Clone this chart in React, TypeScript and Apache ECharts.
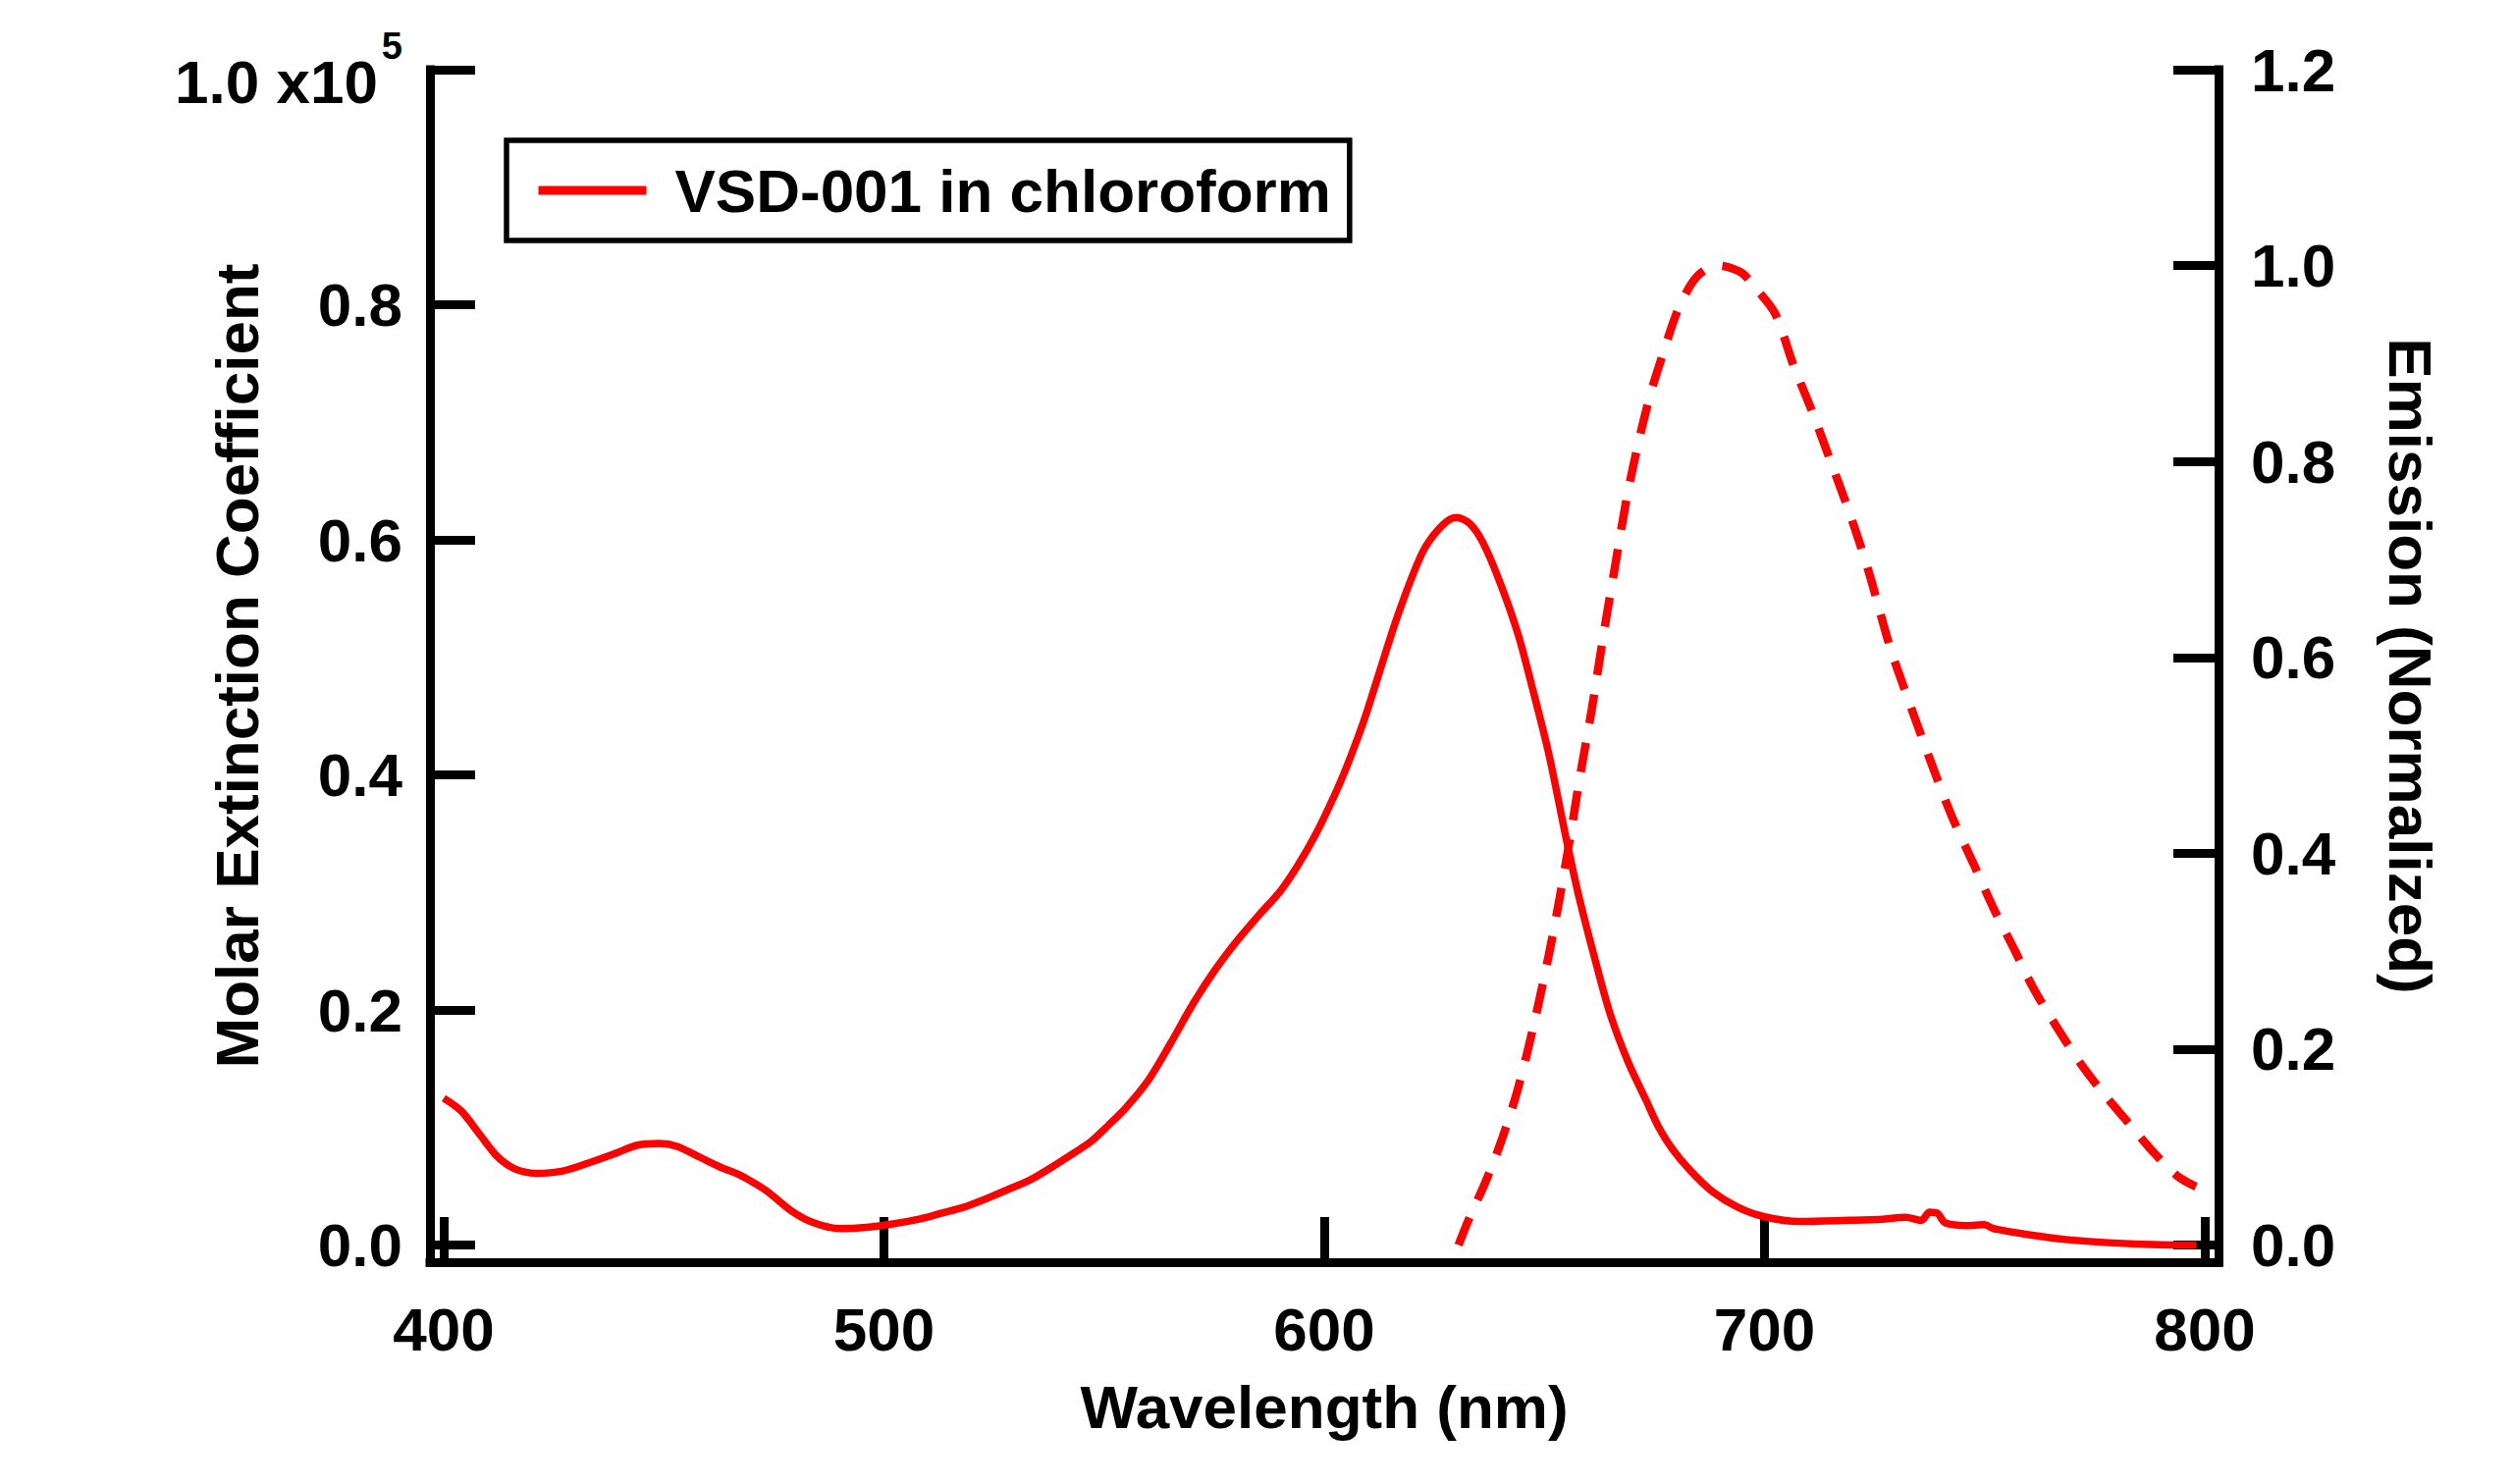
import React, { useEffect, useRef } from 'react'
import * as echarts from 'echarts'

// absorption spectrum (molar extinction coefficient, units of 1e5)
const absWavelength = [
  400, 404, 408, 412, 416, 421, 427, 433, 439, 444, 449, 453, 458, 463, 467, 473, 479, 484, 490, 496,
  502, 508, 513, 518, 523, 528, 533, 538, 543, 547, 551, 555, 560, 565, 570, 575, 580, 585, 590, 594,
  598, 602, 605, 609, 612, 616, 620, 623, 627, 630, 633, 636, 640, 644, 647, 651, 655, 658, 662, 665,
  669, 673, 676, 679, 683, 688, 694, 700, 708, 719, 727, 732, 735.6, 737.5, 739.3, 741, 746, 750, 752,
  760, 769, 778, 788, 798
]
const absorbance = [
  0.125, 0.114, 0.095, 0.076, 0.065, 0.061, 0.063, 0.07, 0.078, 0.085, 0.0865, 0.084, 0.075, 0.066, 0.06,
  0.047, 0.029, 0.019, 0.014, 0.015, 0.018, 0.022, 0.027, 0.032, 0.039, 0.047, 0.055, 0.066, 0.078, 0.088,
  0.102, 0.117, 0.14, 0.171, 0.204, 0.233, 0.258, 0.28, 0.301, 0.323, 0.349, 0.38, 0.406, 0.446, 0.481,
  0.528, 0.569, 0.594, 0.613, 0.619, 0.614, 0.598, 0.563, 0.52, 0.478, 0.418, 0.345, 0.294, 0.236, 0.196,
  0.156, 0.124, 0.1, 0.082, 0.064, 0.046, 0.032, 0.024, 0.02, 0.021, 0.022, 0.0235, 0.021, 0.028, 0.027,
  0.019, 0.0166, 0.0173, 0.014, 0.0088, 0.0045, 0.002, 0.0005, 0.0
]

// emission spectrum (normalized)
const emWavelength = [
  630.5, 633, 636.6, 640.2, 643.9, 647.5, 651, 653.5, 656, 658, 660.8, 663.5, 666.2, 668.8, 671.5, 674.1,
  676.8, 680, 683.2, 686, 689.6, 692, 695, 698, 702.4, 706.6, 710.9, 715.2, 719.5, 723.7, 728.4, 732,
  735.6, 739.3, 742.9, 747.5, 752, 756.6, 761.1, 766.6, 772, 777.5, 783, 788.5, 793.9, 798
]
const emission = [
  0.0, 0.028, 0.064, 0.106, 0.158, 0.223, 0.296, 0.355, 0.42, 0.476, 0.548, 0.625, 0.697, 0.765, 0.822, 0.869,
  0.908, 0.951, 0.98, 0.994, 1.0, 0.998, 0.992, 0.977, 0.951, 0.898, 0.85, 0.798, 0.745, 0.687, 0.612, 0.565,
  0.52, 0.475, 0.434, 0.389, 0.344, 0.303, 0.262, 0.221, 0.184, 0.152, 0.123, 0.094, 0.07, 0.0596
]

const xTicks = [400, 500, 600, 700, 800]
const leftTicks = [0, 0.2, 0.4, 0.6, 0.8, 1.0]
const rightTicks = [0, 0.2, 0.4, 0.6, 0.8, 1.0, 1.2]

const FONT = "'Liberation Sans', Arial, Helvetica, sans-serif"
const RED = '#ff0000'

const App: React.FC = () => {
  const chartRef = useRef<HTMLDivElement>(null)

  useEffect(() => {
    if (!chartRef.current) return
    const chart = echarts.init(chartRef.current, undefined, { renderer: 'svg' })

    const absData = absWavelength.map((w, i) => [w, absorbance[i]])
    const emData = emWavelength.map((w, i) => [w, emission[i]])

    const textBase = { fontFamily: FONT, fontWeight: 'bold' as const, fontSize: 62, color: '#000', lineHeight: 62 }
    const axisLine = { show: true, onZero: false, lineStyle: { color: '#000', width: 9, cap: 'square' as const } }
    const axisTick = { show: true, inside: true, length: 46, lineStyle: { color: '#000', width: 9 } }

    const option: any = {
      animation: false,
      backgroundColor: '#fff',
      grid: { left: 438, right: 300, top: 71, bottom: 226, outerBoundsMode: 'none' },
      legend: {
        data: ['VSD-001 in chloroform'],
        left: 516,
        top: 143,
        padding: [20, 19, 20, 28],
        itemWidth: 110,
        itemHeight: 20,
        backgroundColor: '#fff',
        borderColor: '#000',
        borderWidth: 5.5,
        borderRadius: 0,
        selectedMode: false,
        itemStyle: { opacity: 0 },
        lineStyle: { width: 9 },
        textStyle: { ...textBase, padding: [0, 0, 0, 24] }
      },
      xAxis: {
        type: 'value',
        min: 396.88,
        max: 803.12,
        name: 'Wavelength (nm)',
        nameLocation: 'middle',
        nameGap: 116,
        nameMoveOverlap: false,
        nameTextStyle: textBase,
        axisLine,
        axisTick: { ...axisTick, customValues: xTicks },
        axisLabel: { ...textBase, margin: 37, customValues: xTicks, formatter: (v: number) => String(Math.round(v)) },
        splitLine: { show: false }
      },
      yAxis: [
        {
          type: 'value',
          position: 'left',
          min: -0.0146,
          max: 1.0,
          name: 'Molar Extinction Coefficient',
          nameLocation: 'middle',
          nameGap: 166,
          nameMoveOverlap: false,
          nameTextStyle: textBase,
          axisLine,
          axisTick: { ...axisTick, customValues: leftTicks },
          axisLabel: {
            ...textBase,
            margin: 28,
            customValues: leftTicks,
            formatter: (v: number) => (Math.abs(v - 1) < 1e-6 ? '{n|1.0 x10}{s|5}' : v.toFixed(1)),
            rich: {
              n: { fontFamily: FONT, fontWeight: 'bold', fontSize: 62, lineHeight: 62, color: '#000', padding: [25, 0, 0, 0] },
              s: { fontFamily: FONT, fontWeight: 'bold', fontSize: 38, lineHeight: 38, color: '#000', padding: [0, 0, 49, 4] }
            }
          },
          splitLine: { show: false }
        },
        {
          type: 'value',
          position: 'right',
          min: -0.0175,
          max: 1.2,
          name: 'Emission (Normalized)',
          nameLocation: 'middle',
          nameRotate: -90,
          nameGap: 164,
          nameMoveOverlap: false,
          nameTextStyle: textBase,
          axisLine,
          axisTick: { ...axisTick, customValues: rightTicks },
          axisLabel: { ...textBase, margin: 33, customValues: rightTicks, formatter: (v: number) => v.toFixed(1) },
          splitLine: { show: false }
        }
      ],
      series: [
        {
          name: 'VSD-001 in chloroform',
          type: 'line',
          xAxisIndex: 0,
          yAxisIndex: 0,
          data: absData,
          symbol: 'none',
          showSymbol: false,
          smooth: 0.3,
          silent: true,
          itemStyle: { color: RED },
          lineStyle: { color: RED, width: 7.5 }
        },
        {
          name: 'Emission',
          type: 'line',
          xAxisIndex: 0,
          yAxisIndex: 1,
          data: emData,
          symbol: 'none',
          showSymbol: false,
          smooth: 0.3,
          silent: true,
          itemStyle: { color: RED },
          lineStyle: { color: RED, width: 8.5, type: [30, 20], cap: 'butt' }
        }
      ]
    }

    chart.setOption(option)

    return () => {
      chart.dispose()
    }
  }, [])

  return (
    <div
      ref={chartRef}
      style={{ position: 'fixed', left: 0, top: 0, width: 2560, height: 1512, background: '#fff' }}
    />
  )
}

export default App
